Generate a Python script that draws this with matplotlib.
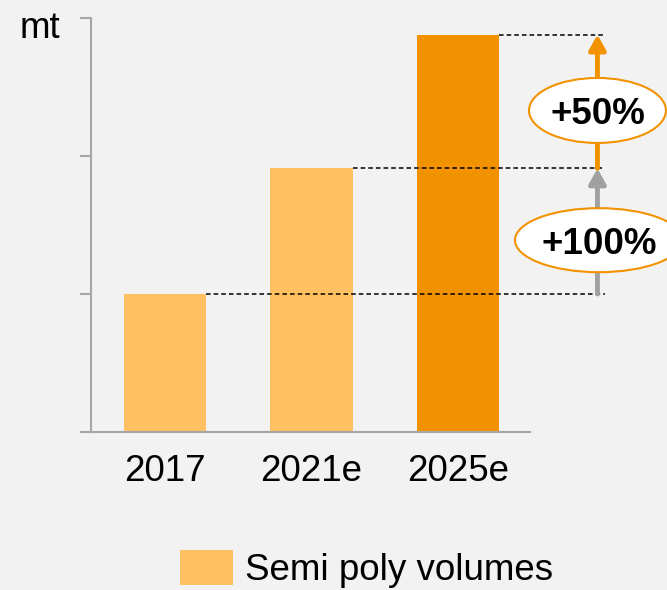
import matplotlib.pyplot as plt
from matplotlib.patches import Ellipse, Patch

years = ['2017', '2021e', '2025e']
volumes = [1.0, 1.91, 2.88]
growth_labels = ['+100%', '+50%']

light = '#FFC061'
dark = '#F39200'
grey = '#A6A6A6'
bg = '#F2F2F2'

plt.rcParams['font.family'] = ['Liberation Sans', 'DejaVu Sans']

fig = plt.figure(figsize=(6.67, 5.9), dpi=100, facecolor=bg)
ax = fig.add_axes([0.1364, 0.2678, 0.7946 - 0.1364, 0.9695 - 0.2678])
ax.set_facecolor(bg)

xs = list(range(len(years)))
colors = [light, light, dark]
ax.bar(xs, volumes, width=0.56, color=colors, zorder=2)

ax.set_xlim(-0.504, 2.49)
ax.set_ylim(0, 3)
ax.set_yticks([0, 1, 2, 3])
ax.set_yticklabels([])
ax.set_xticks(xs)
ax.set_xticklabels(years, fontsize=26.5)
ax.tick_params(axis='x', length=0, pad=16)
ax.tick_params(axis='y', length=8, width=1.5, color=grey)
for s in ['top', 'right']:
    ax.spines[s].set_visible(False)
for s in ['left', 'bottom']:
    ax.spines[s].set_color(grey)
    ax.spines[s].set_linewidth(1.5)

fig.text(0.03, 0.952, 'mt', fontsize=26.5, ha='left', va='center')

# dashed reference lines from each bar top
x_end = 3.0
for x, v in zip(xs, volumes):
    ax.plot([x + 0.28, x_end], [v, v], ls=(0, (3, 2)), color='black',
            lw=1.1, clip_on=False, zorder=3)

# growth arrows
ax_x = 2.95
ax.annotate('', xy=(ax_x, volumes[1]), xytext=(ax_x, volumes[0]),
            arrowprops=dict(arrowstyle='-|>,head_width=0.5,head_length=0.9',
                            color='#A0A0A0', lw=3.5, shrinkA=0, shrinkB=0),
            annotation_clip=False)
ax.annotate('', xy=(ax_x, volumes[2]), xytext=(ax_x, volumes[1]),
            arrowprops=dict(arrowstyle='-|>,head_width=0.5,head_length=0.9',
                            color=dark, lw=3.5, shrinkA=0, shrinkB=0),
            annotation_clip=False)

# growth labels in ellipses
ell = [(2.96, 1.39, 1.145, 0.464), (2.95, 2.33, 0.934, 0.471)]
for (cx, cy, w, h), lab in zip(ell, growth_labels):
    ax.add_patch(Ellipse((cx, cy), w, h, facecolor='white', edgecolor=dark,
                         lw=1.5, clip_on=False, zorder=5))
    ax.text(cx, cy - 0.03, lab, fontsize=26.5, fontweight='bold',
            ha='center', va='center', zorder=6, clip_on=False)

handle = Patch(facecolor=light, edgecolor='none')
fig.legend([handle], ['Semi poly volumes'], loc='center',
           bbox_to_anchor=(0.55, 0.036), frameon=False, fontsize=26.5,
           handlelength=1.43, handleheight=1.08, handletextpad=0.33)

fig.savefig('out.png', dpi=100, facecolor=bg)
